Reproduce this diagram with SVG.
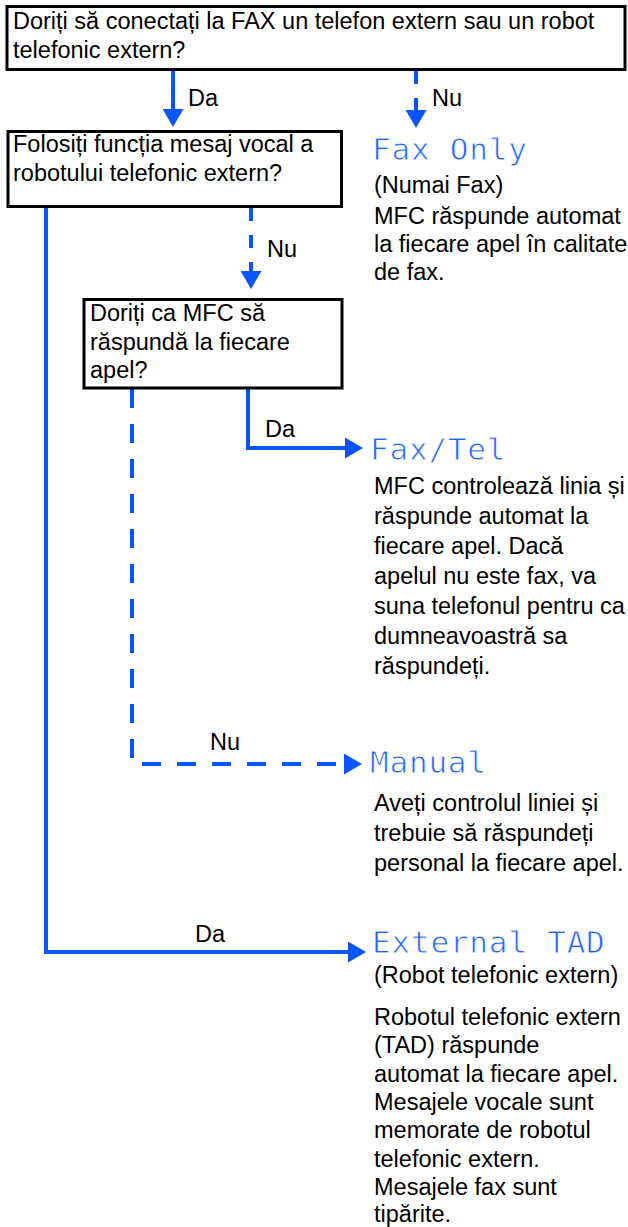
<svg xmlns="http://www.w3.org/2000/svg" width="628" height="1227" viewBox="0 0 628 1227">
<style>
.box{fill:#fff;stroke:#000;stroke-width:3}
.t{font-family:"Liberation Sans",Arial,Helvetica,sans-serif;font-size:23.5px;fill:#000}
.m{font-family:"DejaVu Sans Mono","Liberation Mono",monospace;font-size:31px;letter-spacing:0.8px;fill:#1f66ff;stroke:#fff;stroke-width:0.8px}
.c{fill:none;stroke:#0a55ff;stroke-width:4}
.d1{stroke-dasharray:13 14}
.d2{stroke-dasharray:19 16}
</style>
<defs>
<marker id="ah" markerUnits="userSpaceOnUse" viewBox="0 0 18 21" markerWidth="18" markerHeight="21" refX="0" refY="10.5" orient="auto">
<path d="M0,0 L18,10.5 L0,21 Z" fill="#0a55ff"/>
</marker>
</defs>
<rect width="628" height="1227" fill="#fff"/>
<g id="connectors">
<path class="c" d="M173,71 V109" marker-end="url(#ah)"/>
<path class="c d1" d="M416,71 V110" marker-end="url(#ah)"/>
<path class="c d1" d="M251,208 V271" marker-end="url(#ah)"/>
<path class="c" d="M46,208 V952 H348" marker-end="url(#ah)"/>
<path class="c" d="M248,389 V448 H345" marker-end="url(#ah)"/>
<path class="c d2" d="M132,389 V764 H344" marker-end="url(#ah)"/>
<text class="t" x="188" y="106">Da</text>
<text class="t" x="432" y="106">Nu</text>
<text class="t" x="267" y="257">Nu</text>
<text class="t" x="265" y="437">Da</text>
<text class="t" x="210" y="750">Nu</text>
<text class="t" x="195" y="942">Da</text>
</g>
<g id="q1">
<rect class="box" x="7" y="6.5" width="618" height="63"/>
<text class="t" x="13" y="29">Doriți să conectați la FAX un telefon extern sau un robot</text>
<text class="t" x="13" y="58">telefonic extern?</text>
</g>
<g id="q2">
<rect class="box" x="8" y="131.5" width="333.5" height="75"/>
<text class="t" x="13" y="152">Folosiți funcția mesaj vocal a</text>
<text class="t" x="13" y="181">robotului telefonic extern?</text>
</g>
<g id="q3">
<rect class="box" x="84" y="299.5" width="258" height="88.5"/>
<text class="t" x="90" y="321">Doriți ca MFC să</text>
<text class="t" x="90" y="350">răspundă la fiecare</text>
<text class="t" x="90" y="378">apel?</text>
</g>
<g id="faxonly">
<text class="m" x="372" y="160">Fax Only</text>
<text class="t" x="374" y="193">(Numai Fax)</text>
<text class="t" x="374" y="224">MFC răspunde automat</text>
<text class="t" x="374" y="252">la fiecare apel în calitate</text>
<text class="t" x="374" y="280">de fax.</text>
</g>
<g id="faxtel">
<text class="m" x="370" y="460">Fax/Tel</text>
<text class="t" x="374" y="494">MFC controlează linia și</text>
<text class="t" x="374" y="524">răspunde automat la</text>
<text class="t" x="374" y="554">fiecare apel. Dacă</text>
<text class="t" x="374" y="584">apelul nu este fax, va</text>
<text class="t" x="374" y="614">suna telefonul pentru ca</text>
<text class="t" x="374" y="644">dumneavoastră sa</text>
<text class="t" x="374" y="674">răspundeți.</text>
</g>
<g id="manual">
<text class="m" x="370" y="773">Manual</text>
<text class="t" x="374" y="811">Aveți controlul liniei și</text>
<text class="t" x="374" y="841">trebuie să răspundeți</text>
<text class="t" x="374" y="871">personal la fiecare apel.</text>
</g>
<g id="externaltad">
<text class="m" x="372" y="953">External TAD</text>
<text class="t" x="374" y="983">(Robot telefonic extern)</text>
<text class="t" x="374" y="1025">Robotul telefonic extern</text>
<text class="t" x="374" y="1053">(TAD) răspunde</text>
<text class="t" x="374" y="1082">automat la fiecare apel.</text>
<text class="t" x="374" y="1110">Mesajele vocale sunt</text>
<text class="t" x="374" y="1138">memorate de robotul</text>
<text class="t" x="374" y="1167">telefonic extern.</text>
<text class="t" x="374" y="1195">Mesajele fax sunt</text>
<text class="t" x="374" y="1222">tipărite.</text>
</g>
</svg>
